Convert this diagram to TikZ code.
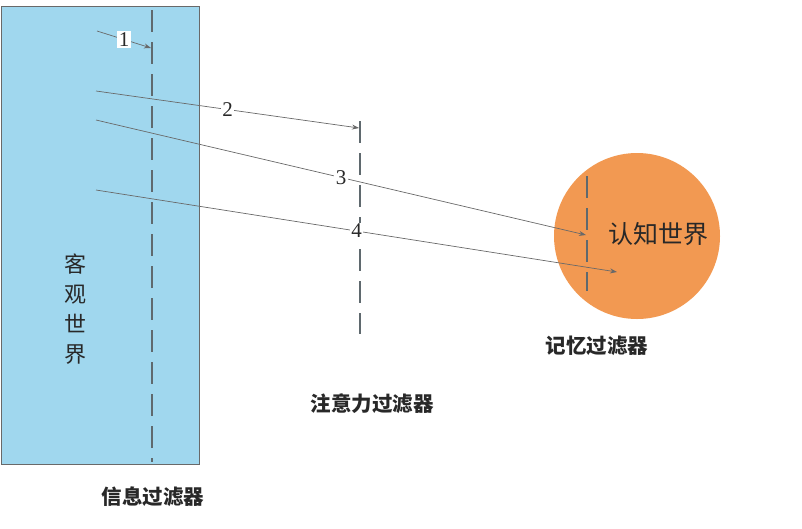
\documentclass[tikz,border=0pt]{standalone}
\usepackage{fontspec}
\newfontfamily\cjk{Noto Sans CJK SC}
\newfontfamily\digits{Liberation Serif}
\usetikzlibrary{arrows.meta}
\definecolor{worldblue}{RGB}{160,215,238}
\definecolor{mindorange}{RGB}{242,153,82}
\definecolor{linegray}{RGB}{105,105,105}
\definecolor{dashgray}{RGB}{95,105,110}
\definecolor{inkgray}{RGB}{40,40,40}
\tikzstyle{world} = [rectangle, draw=linegray, fill=worldblue, minimum width=198pt, minimum height=458pt, anchor=north west, inner sep=0pt]
\tikzstyle{mind} = [circle, fill=mindorange, minimum size=166pt, inner sep=0pt]
\tikzstyle{filter} = [dashgray, line width=2pt, dash pattern=on 22pt off 10pt]
\tikzstyle{signal} = [linegray, line width=0.7pt, -{Stealth[length=7pt,width=5pt]}]
\tikzstyle{tag} = [fill=white, inner sep=1.5pt, text=inkgray, font=\digits\fontsize{21}{21}\selectfont]
\tikzstyle{caption} = [text=inkgray, font=\cjk\bfseries\fontsize{20.5}{20.5}\selectfont]

\begin{document}
\begin{tikzpicture}[x=1pt,y=-1pt]
            \useasboundingbox (0,0) rectangle (802,528);
            \node (outer) [world] at (1,6) {};
            \node (outertext) [text=inkgray, align=center, font=\cjk\fontsize{22}{30}\selectfont] at (75,309) {客\\观\\世\\界};
            \node (mind) [mind] at (637,236) {};
            \node (mindtext) [text=inkgray, font=\cjk\fontsize{25}{25}\selectfont] at (658,234) {认知世界};
            % the three filters
            \draw [filter] (152,10) -- (152,462);
            \draw [filter] (360,121) -- (360,334);
            \draw [filter] (587,176) -- (587,291);
            \node (infocap) [caption] at (153,497) {信息过滤器};
            \node (attncap) [caption] at (372,404) {注意力过滤器};
            \node (memcap) [caption] at (597,346) {记忆过滤器};
            % signals
            \coordinate (s1) at (97,31);
            \coordinate (e1) at (151,48);
            \coordinate (s2) at (96,91);
            \coordinate (e2) at (359,128);
            \coordinate (s3) at (96,120);
            \coordinate (e3) at (586,235);
            \coordinate (s4) at (96,190);
            \coordinate (e4) at (617,272);
            \draw [signal] (s1) -- node[tag] {1} (e1);
            \draw [signal] (s2) -- node[tag] {2} (e2);
            \draw [signal] (s3) -- node[tag] {3} (e3);
            \draw [signal] (s4) -- node[tag] {4} (e4);
\end{tikzpicture}
\end{document}
